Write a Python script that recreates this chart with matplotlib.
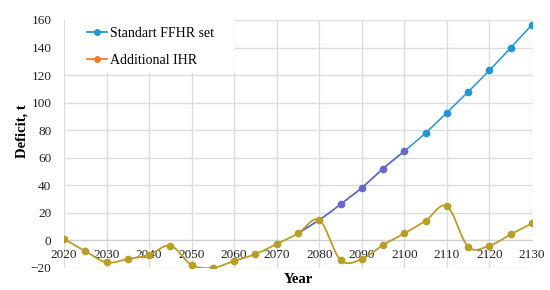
import numpy as np
import matplotlib
matplotlib.use("Agg")
import matplotlib.pyplot as plt
from matplotlib.lines import Line2D
from matplotlib.patches import Rectangle

plt.rcParams["font.family"] = ["Liberation Serif", "DejaVu Serif"]

# data
years = [2020, 2025, 2030, 2035, 2040, 2045, 2050, 2055, 2060, 2065, 2070, 2075,
         2080, 2085, 2090, 2095, 2100, 2105, 2110, 2115, 2120, 2125, 2130]
standart = [1, -7.7, -15.9, -13.5, -10.5, -3.8, -17.8, -19.8, -14.9, -9.9, -2.6, 5.1,
            14.8, 26.2, 38.2, 52.2, 64.8, 78.0, 92.8, 107.9, 123.5, 139.9, 156.6]
additional = [1, -7.7, -15.9, -13.5, -10.5, -3.8, -17.8, -19.8, -14.9, -9.9, -2.6, 5.1,
              14.8, -14.2, -13.5, -3.3, 5.1, 14.3, 24.9, -4.6, -3.8, 4.4, 12.4]
labels = ["Standart FFHR set", "Additional IHR"]

BLUE = "#2196d3"
PURPLE = "#6a66cc"
OLIVE = "#b99d26"
ORANGE = "#f27b30"


def smooth(x, y, n=30):
    # excel-like smoothed line (catmull-rom bezier)
    x = np.asarray(x, float)
    y = np.asarray(y, float)
    px = np.concatenate([[x[0]], x, [x[-1]]])
    py = np.concatenate([[y[0]], y, [y[-1]]])
    xs, ys = [], []
    t = np.linspace(0, 1, n)
    for i in range(1, len(px) - 2):
        p0 = np.array([px[i], py[i]])
        p3 = np.array([px[i + 1], py[i + 1]])
        c1 = p0 + (np.array([px[i + 1], py[i + 1]]) - np.array([px[i - 1], py[i - 1]])) / 6
        c2 = p3 - (np.array([px[i + 2], py[i + 2]]) - np.array([px[i], py[i]])) / 6
        b = ((1 - t) ** 3)[:, None] * p0 + (3 * (1 - t) ** 2 * t)[:, None] * c1 \
            + (3 * (1 - t) * t ** 2)[:, None] * c2 + (t ** 3)[:, None] * p3
        xs.extend(b[:, 0])
        ys.extend(b[:, 1])
    return np.array(xs), np.array(ys)


fig = plt.figure(figsize=(5.5, 2.9), dpi=100)
ax = fig.add_axes([64 / 550, 22 / 290, 468 / 550, 248 / 290])

yrs = np.array(years)
st = np.array(standart)
i0 = years.index(2075)
i1 = years.index(2100)
sx, sy = smooth(yrs[i0:], st[i0:])
ax.plot(sx, sy, color=BLUE, lw=1.1, zorder=3)
sx2, sy2 = smooth(yrs[i0:i1 + 1], st[i0:i1 + 1])
ax.plot(sx2, sy2, color=PURPLE, lw=1.1, zorder=3)
ax.plot(yrs[i0 + 2:i1 + 1], st[i0 + 2:i1 + 1], "o", color=PURPLE, ms=4.5, zorder=4)
ax.plot(yrs[i1 + 1:], st[i1 + 1:], "o", color=BLUE, ms=4.5, zorder=4)

ax_, ay_ = smooth(years, additional)
ax.plot(ax_, ay_, color=OLIVE, lw=1.3, zorder=5)
ax.plot(years, additional, "o", color=OLIVE, ms=4.5, zorder=6)

ax.set_xlim(2020, 2130)
ax.set_ylim(-20, 160)
ax.set_xticks(range(2020, 2131, 10))
ax.set_yticks(range(-20, 161, 20))
ax.grid(True, color="#dcdcdc", lw=1)
ax.set_axisbelow(True)
for s in ["top", "right", "left"]:
    ax.spines[s].set_visible(False)
ax.spines["bottom"].set_position(("data", 0))
ax.spines["bottom"].set_color("#d0d0d0")
ax.tick_params(length=0, labelsize=9.5, colors="#222222")
ax.tick_params(axis="y", pad=9)
ax.tick_params(axis="x", pad=6)

ax.set_xlabel("Year", fontsize=10.5, fontweight="bold")
ax.xaxis.set_label_coords(0.5, -0.022)
ax.set_ylabel("Deficit, t", fontsize=10.5, fontweight="bold")
ax.yaxis.set_label_coords(-0.075, 0.55)

# white legend background hiding the grid (like the excel legend box)
ax.add_patch(Rectangle((0.002, 1 - 53 / 248), 170 / 468, 53 / 248,
                       transform=ax.transAxes, facecolor="white",
                       edgecolor="none", zorder=1))

handles = [Line2D([], [], color=BLUE, marker="o", ms=4, lw=1.3),
           Line2D([], [], color=ORANGE, marker="o", ms=4, lw=1.3)]
leg = ax.legend(handles, labels, loc="upper left", bbox_to_anchor=(0.037, 0.995),
                fontsize=10, frameon=False,
                handlelength=1.45, handletextpad=0.2,
                labelspacing=1.0, borderpad=0.4, borderaxespad=0.0)

fig.savefig("out.png", dpi=100)
